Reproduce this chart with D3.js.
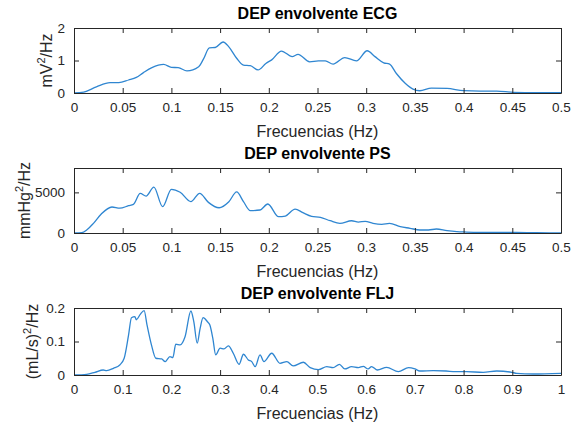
<!DOCTYPE html>
<html><head><meta charset="utf-8">
<script src="https://cdn.jsdelivr.net/npm/d3@7"></script>
<style>
body{margin:0;background:#fff;}
svg{display:block;font-family:"Liberation Sans",Arial,Helvetica,sans-serif;}
</style></head>
<body>
<svg id="chart" width="582" height="425"></svg>
<script>
// ---- data ----
const ecgFreq = [0,0.01,0.023,0.037,0.046,0.056,0.064,0.071,0.080,0.092,0.100,0.107,0.116,0.128,0.133,0.139,0.145,0.153,0.159,0.167,0.174,0.181,0.189,0.197,0.203,0.213,0.224,0.230,0.242,0.251,0.258,0.266,0.278,0.290,0.301,0.309,0.318,0.324,0.331,0.340,0.348,0.355,0.367,0.383,0.400,0.417,0.434,0.451,0.475,0.5];
const ecgValues = [0,0.03,0.19,0.32,0.32,0.40,0.48,0.62,0.78,0.88,0.79,0.78,0.68,0.81,1.05,1.39,1.40,1.57,1.42,1.07,0.86,0.84,0.71,0.91,1.02,1.29,1.12,1.19,0.96,0.99,0.99,0.89,1.09,0.99,1.30,1.12,0.93,0.89,0.60,0.30,0.12,0.07,0.15,0.14,0.07,0.06,0.06,0.02,0.01,0.01];

const psFreq = [0,0.008,0.013,0.020,0.028,0.039,0.047,0.056,0.061,0.068,0.074,0.082,0.091,0.100,0.109,0.120,0.129,0.138,0.149,0.159,0.167,0.174,0.181,0.191,0.199,0.210,0.217,0.227,0.235,0.244,0.253,0.263,0.273,0.285,0.292,0.299,0.307,0.316,0.324,0.335,0.345,0.355,0.364,0.372,0.383,0.393,0.403,0.424,0.444,0.454,0.475,0.5];
const psValues = [0,40,370,1190,2340,3200,3050,3360,3530,4880,4550,5650,3240,5380,5010,3860,4880,3770,3110,3850,5050,3860,2750,2830,3570,2010,2090,2950,2500,2050,1930,1510,1190,1510,1350,1440,1190,1070,1190,780,580,370,370,490,280,160,120,80,60,80,30,20];

const fljFreq = [0,0.026,0.043,0.060,0.067,0.081,0.094,0.103,0.112,0.118,0.125,0.128,0.136,0.144,0.150,0.159,0.168,0.180,0.187,0.197,0.203,0.209,0.218,0.228,0.240,0.246,0.253,0.259,0.265,0.274,0.279,0.285,0.291,0.300,0.308,0.317,0.327,0.339,0.348,0.358,0.365,0.372,0.382,0.390,0.406,0.423,0.437,0.450,0.471,0.485,0.502,0.519,0.532,0.545,0.556,0.570,0.584,0.594,0.604,0.611,0.623,0.642,0.666,0.687,0.700,0.710,0.738,0.764,0.783,0.806,0.840,0.868,0.899,0.909,0.943,1.0];
const fljValues = [0,0.002,0.008,0.015,0.013,0.020,0.030,0.050,0.119,0.171,0.174,0.165,0.181,0.192,0.149,0.090,0.050,0.048,0.040,0.055,0.052,0.092,0.090,0.114,0.191,0.159,0.095,0.139,0.171,0.159,0.149,0.110,0.060,0.080,0.078,0.087,0.065,0.032,0.062,0.045,0.040,0.025,0.060,0.040,0.065,0.035,0.040,0.027,0.038,0.022,0.016,0.025,0.022,0.032,0.018,0.025,0.022,0.026,0.018,0.025,0.015,0.023,0.010,0.022,0.018,0.012,0.013,0.012,0.010,0.010,0.008,0.012,0.008,0.005,0.003,0.005];

const titles = ["DEP envolvente ECG","DEP envolvente PS","DEP envolvente FLJ"];
const xLabel = "Frecuencias (Hz)";
const ecgXTicks = [0,0.05,0.1,0.15,0.2,0.25,0.3,0.35,0.4,0.45,0.5];
const psXTicks = [0,0.05,0.1,0.15,0.2,0.25,0.3,0.35,0.4,0.45,0.5];
const fljXTicks = [0,0.1,0.2,0.3,0.4,0.5,0.6,0.7,0.8,0.9,1];
const ecgYTicks = [0,1,2];
const psYTicks = [0,5000];
const fljYTicks = [0,0.1,0.2];

// ---- layout ----
const svg = d3.select("#chart");
const axisColor = "#262626";
const lineColor = "#2f86d1";
const left = 74, right = 561;

const panels = [
  {freq: ecgFreq, vals: ecgValues, xDom:[0,0.5], yDom:[0,2], xt: ecgXTicks, yt: ecgYTicks,
   top:28, bottom:93, title:titles[0], ylab:["mV","2","/Hz"], ylx:52},
  {freq: psFreq, vals: psValues, xDom:[0,0.5], yDom:[0,8000], xt: psXTicks, yt: psYTicks,
   top:168, bottom:233, title:titles[1], ylab:["mmHg","2","/Hz"], ylx:30},
  {freq: fljFreq, vals: fljValues, xDom:[0,1], yDom:[0,0.2], xt: fljXTicks, yt: fljYTicks,
   top:308, bottom:375, title:titles[2], ylab:["(mL/s)","2","/Hz"], ylx:38}
];

const fmt = d => String(+d.toFixed(4));

panels.forEach(p => {
  const x = d3.scaleLinear().domain(p.xDom).range([left, right]);
  const y = d3.scaleLinear().domain(p.yDom).range([p.bottom, p.top]);
  const g = svg.append("g");

  // line
  const data = p.freq.map((f,i)=>[f,p.vals[i]]);
  g.append("path").datum(data)
    .attr("fill","none").attr("stroke",lineColor).attr("stroke-width",1.3)
    .attr("d", d3.line().x(d=>x(d[0])).y(d=>y(d[1])).curve(d3.curveMonotoneX));

  // axes
  const tl = 5;
  const bx = g.append("g").attr("transform",`translate(0,${p.bottom})`)
    .call(d3.axisBottom(x).tickValues(p.xt).tickFormat(fmt).tickSizeInner(-tl).tickSizeOuter(0).tickPadding(9));
  const tx = g.append("g").attr("transform",`translate(0,${p.top})`)
    .call(d3.axisTop(x).tickValues(p.xt).tickFormat("").tickSizeInner(-tl).tickSizeOuter(0));
  const ly = g.append("g").attr("transform",`translate(${left},0)`)
    .call(d3.axisLeft(y).tickValues(p.yt).tickFormat(fmt).tickSizeInner(-tl).tickSizeOuter(0).tickPadding(9));
  const ry = g.append("g").attr("transform",`translate(${right},0)`)
    .call(d3.axisRight(y).tickValues(p.yt).tickFormat("").tickSizeInner(-tl).tickSizeOuter(0));
  [bx,tx,ly,ry].forEach(a=>{
    a.selectAll(".domain").attr("stroke",axisColor).attr("stroke-width",1);
    a.selectAll(".tick line").attr("stroke",axisColor).attr("stroke-width",1);
    a.selectAll("text").attr("fill",axisColor).attr("font-size",13.5)
      .attr("font-family","'Liberation Sans',Arial,sans-serif");
  });

  // title
  g.append("text").attr("x",(left+right)/2).attr("y",p.top-9)
    .attr("text-anchor","middle").attr("font-weight","bold").attr("font-size",16)
    .attr("fill","#000").text(p.title);

  // xlabel
  g.append("text").attr("x",(left+right)/2).attr("y",p.bottom+44)
    .attr("text-anchor","middle").attr("font-size",16)
    .attr("fill",axisColor).text(xLabel);

  // ylabel
  const yl = g.append("text")
    .attr("transform",`translate(${p.ylx},${(p.top+p.bottom)/2}) rotate(-90)`)
    .attr("text-anchor","middle").attr("font-size",16).attr("fill",axisColor);
  yl.append("tspan").text(p.ylab[0]);
  yl.append("tspan").attr("dy",-7).attr("font-size",11).text(p.ylab[1]);
  yl.append("tspan").attr("dy",7).text(p.ylab[2]);
});
</script>
</body></html>
